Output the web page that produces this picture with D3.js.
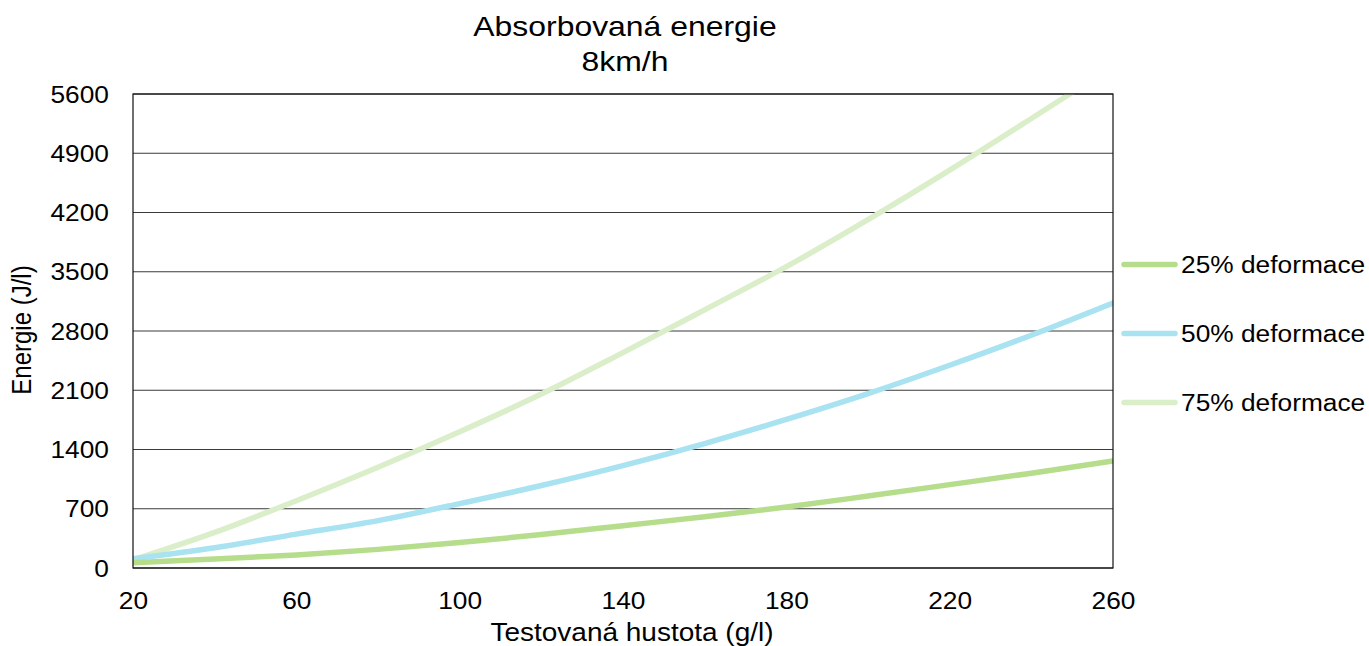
<!DOCTYPE html>
<html>
<head>
  <meta charset="utf-8">
  <title>Absorbovaná energie 8km/h</title>
  <script src="https://d3js.org/d3.v7.min.js"></script>
  <style>
    body { margin: 0; background: #fff; font-family: "Liberation Sans", Arial, sans-serif; }
    svg text { fill: #000; font-family: "Liberation Sans", Arial, sans-serif; }
  </style>
</head>
<body>
  <svg id="chart" width="1369" height="646"></svg>

  <script>
    const density = [20, 40, 60, 80, 100, 120, 140, 160, 180, 200, 220, 240, 260];
    const def25 = [63, 105, 155, 220, 300, 395, 500, 605, 720, 850, 985, 1120, 1264];
    const def50 = [110, 240, 400, 560, 760, 975, 1210, 1470, 1755, 2060, 2395, 2750, 3130];
    const def75 = [95, 420, 795, 1190, 1610, 2055, 2545, 3050, 3560, 4115, 4700, 5310, 5930];
    const xTicks = [20, 60, 100, 140, 180, 220, 260];
    const yTicks = [0, 700, 1400, 2100, 2800, 3500, 4200, 4900, 5600];

    const series = [
      { name: "25% deformace", values: def25, color: "#b6dd8b" },
      { name: "50% deformace", values: def50, color: "#a9e2f1" },
      { name: "75% deformace", values: def75, color: "#daeec9" }
    ];

    const svg = d3.select("#chart");
    const plot = { left: 133, right: 1113, top: 94, bottom: 568 };
    const stretch = 1.12; // text in the reference is a little wider than tall

    const x = d3.scaleLinear().domain([20, 260]).range([plot.left, plot.right]);
    const y = d3.scaleLinear().domain([0, 5600]).range([plot.bottom, plot.top]);

    // gridlines
    svg.append("g")
      .selectAll("line")
      .data(yTicks)
      .join("line")
      .attr("x1", plot.left).attr("x2", plot.right)
      .attr("y1", d => y(d)).attr("y2", d => y(d))
      .attr("stroke", "#3a3a3a")
      .attr("stroke-width", 1.2);

    svg.append("defs").append("clipPath").attr("id", "plotclip")
      .append("rect")
      .attr("x", plot.left).attr("y", plot.top)
      .attr("width", plot.right - plot.left).attr("height", plot.bottom - plot.top);

    const line = d3.line()
      .x((d, i) => x(density[i]))
      .y(d => y(d))
      .curve(d3.curveCatmullRom);

    svg.append("g")
      .attr("clip-path", "url(#plotclip)")
      .selectAll("path")
      .data(series.slice().reverse())
      .join("path")
      .attr("fill", "none")
      .attr("stroke", d => d.color)
      .attr("stroke-width", 5.5)
      .attr("stroke-linecap", "round")
      .attr("d", d => line(d.values));

    // plot border
    svg.append("rect")
      .attr("x", plot.left).attr("y", plot.top)
      .attr("width", plot.right - plot.left).attr("height", plot.bottom - plot.top)
      .attr("fill", "none")
      .attr("stroke", "#111")
      .attr("stroke-width", 1.2);

    // axis labels
    const xAxis = svg.append("g")
      .attr("transform", `translate(0,${plot.bottom})`)
      .call(d3.axisBottom(x).tickValues(xTicks).tickSize(0).tickFormat(d3.format("d")));
    xAxis.select(".domain").remove();
    xAxis.selectAll("text")
      .attr("font-size", 23.5)
      .attr("y", 41).attr("dy", null)
      .attr("transform", `scale(${stretch},1)`);

    const yAxis = svg.append("g")
      .attr("transform", `translate(${plot.left},0)`)
      .call(d3.axisLeft(y).tickValues(yTicks).tickSize(0).tickFormat(d3.format("d")));
    yAxis.select(".domain").remove();
    yAxis.selectAll("text")
      .attr("font-size", 23.5)
      .attr("x", -24 / stretch).attr("dy", "0.35em")
      .attr("transform", `scale(${stretch},1)`);

    function label(px, py, size, txt, rotate) {
      svg.append("text")
        .attr("transform", `translate(${px},${py})` + (rotate ? " rotate(-90)" : "") +
              (rotate ? ` scale(1,${stretch})` : ` scale(${stretch},1)`))
        .attr("text-anchor", "middle")
        .attr("font-size", size)
        .text(txt);
    }

    label(625, 36, 28.5, "Absorbovaná energie");
    label(625, 71, 28.5, "8km/h");
    label(632, 641, 25, "Testovaná hustota (g/l)");
    label(31, 330, 24, "Energie (J/l)", true);

    // legend
    const legend = svg.append("g")
      .selectAll("g")
      .data(series)
      .join("g")
      .attr("transform", (d, i) => `translate(1124,${264.5 + i * 69})`);
    legend.append("line")
      .attr("x1", 0).attr("x2", 51)
      .attr("stroke", d => d.color)
      .attr("stroke-width", 5.5)
      .attr("stroke-linecap", "round");
    legend.append("text")
      .attr("x", 57 / stretch).attr("dy", "0.36em")
      .attr("font-size", 23.5)
      .attr("transform", `scale(${stretch},1)`)
      .text(d => d.name);
  </script>
</body>
</html>
